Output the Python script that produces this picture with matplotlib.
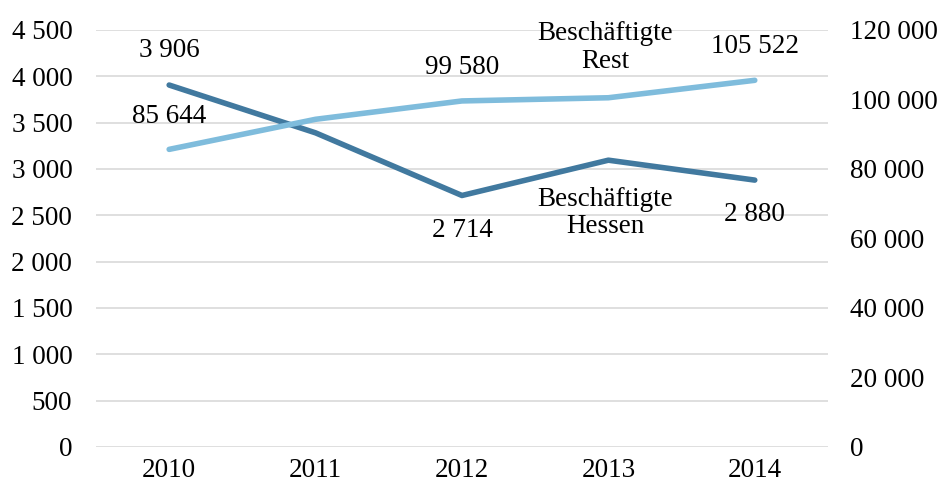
import matplotlib.pyplot as plt
from matplotlib.ticker import FuncFormatter, MultipleLocator

plt.rcParams['font.family'] = ['Liberation Serif', 'DejaVu Serif']

years = ['2010', '2011', '2012', '2013', '2014']
hessen = [3906, 3390, 2714, 3095, 2880]
rest = [85644, 94300, 99580, 100500, 105522]
# labelled points: index, value, label above (+1) or below (-1)
hessen_labeled = [(0, 3906, 1), (2, 2714, -1), (4, 2880, -1)]
rest_labeled = [(0, 85644, 1), (2, 99580, 1), (4, 105522, 1)]

dark = '#41799f'
light = '#7fbcdc'
fs = 19.5

def fmt(v, pos=None):
    return f'{int(v):,}'.replace(',', ' ')

fig = plt.figure(figsize=(9.38, 4.9), dpi=100)
ax = fig.add_axes([0.1023, 0.0878, 0.7804, 0.851])
ax2 = ax.twinx()

x = range(len(years))
ax.plot(x, hessen, color=dark, lw=4, solid_capstyle='round', zorder=3)
ax2.plot(x, rest, color=light, lw=4, solid_capstyle='round', zorder=3)

ax.set_xlim(-0.5, 4.5)
ax.set_ylim(0, 4500)
ax2.set_ylim(0, 120000)
ax.yaxis.set_major_locator(MultipleLocator(500))
ax2.yaxis.set_major_locator(MultipleLocator(20000))
ax.yaxis.set_major_formatter(FuncFormatter(fmt))
ax2.yaxis.set_major_formatter(FuncFormatter(fmt))
ax.set_xticks(list(x))
ax.set_xticklabels(years)

ax.grid(axis='y', color='#d9d9d9', lw=1.2)
ax.set_axisbelow(True)
for a in (ax, ax2):
    for s in a.spines.values():
        s.set_visible(False)
ax.tick_params(axis='both', length=0, labelsize=fs)
ax.tick_params(axis='y', pad=17)
ax.tick_params(axis='x', pad=8)
ax2.tick_params(axis='y', length=0, labelsize=fs, pad=16)

for i, v, d in hessen_labeled:
    ax.annotate(fmt(v), (i, v), xytext=(0, 25 * d), textcoords='offset points',
                ha='center', va='center', fontsize=fs)
for i, v, d in rest_labeled:
    ax2.annotate(fmt(v), (i, v), xytext=(0, 24 * d), textcoords='offset points',
                 ha='center', va='center', fontsize=fs)

ax2.annotate('Beschäftigte\nRest', (3, rest[3]), xytext=(-2, 36), textcoords='offset points',
             ha='center', va='center', fontsize=fs, linespacing=1.15)
ax.annotate('Beschäftigte\nHessen', (3, hessen[3]), xytext=(-2, -38), textcoords='offset points',
            ha='center', va='center', fontsize=fs, linespacing=1.15)

fig.savefig('out.png', dpi=100)
